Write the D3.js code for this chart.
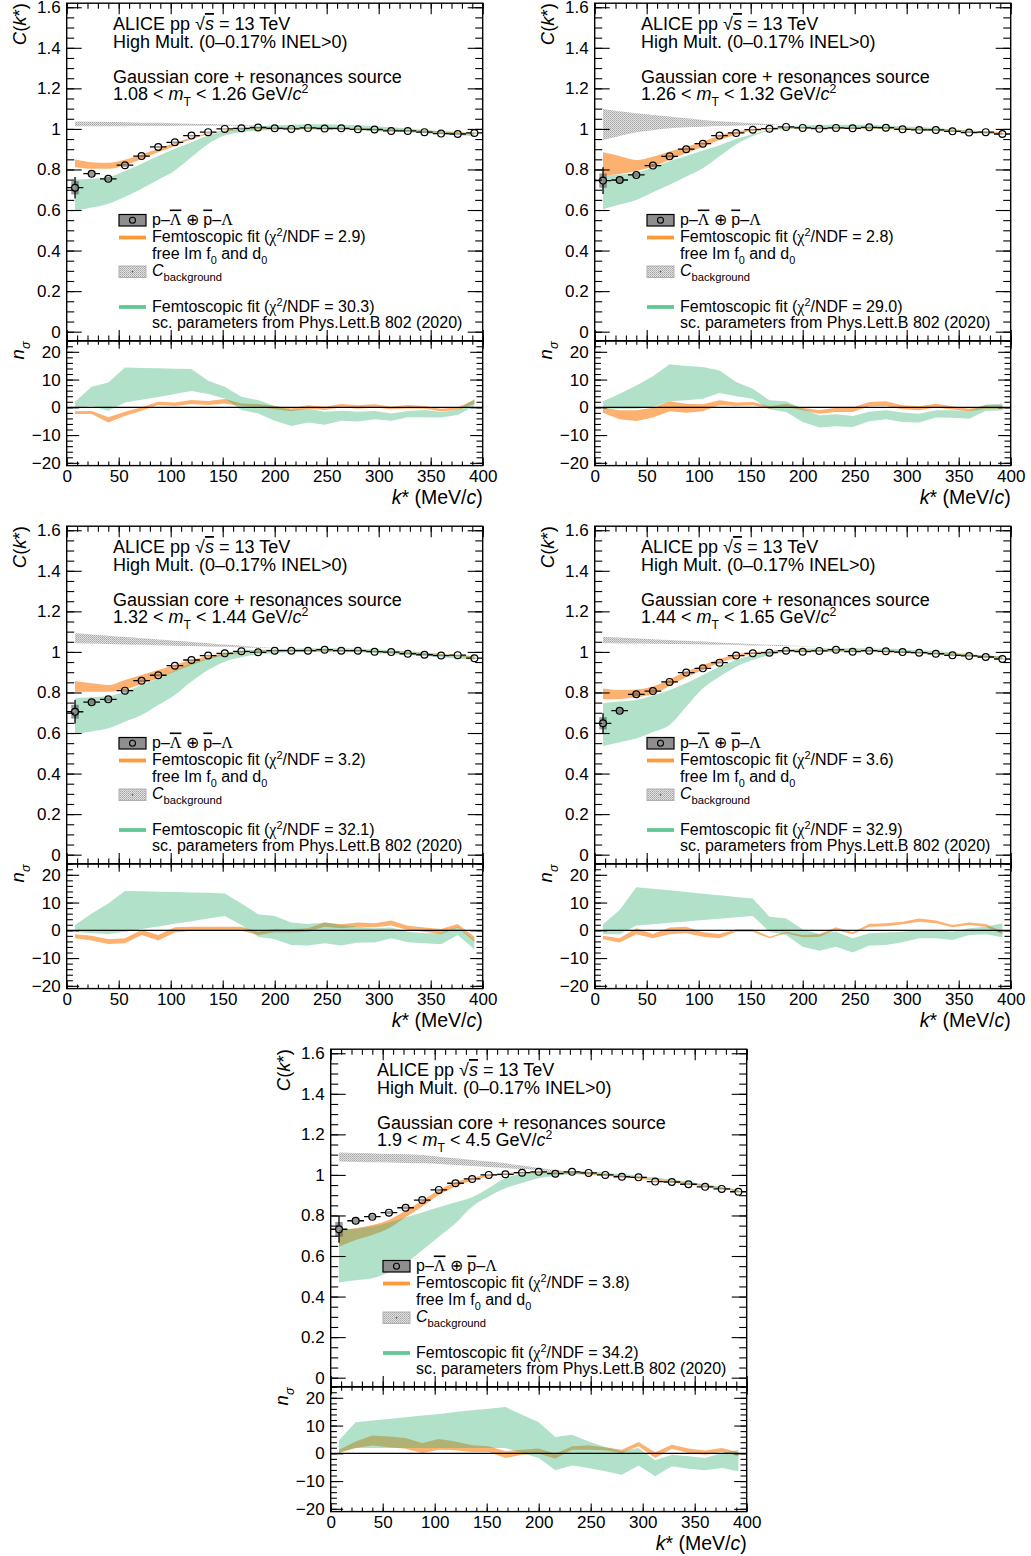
<!DOCTYPE html>
<html><head><meta charset="utf-8">
<script src="https://cdn.jsdelivr.net/npm/d3@7"></script>
<style>
body{margin:0;background:#fff}
svg{display:block}
text{font-family:"Liberation Sans",Arial,Helvetica,sans-serif;fill:#000}
</style>
</head><body>
<svg id="chart" width="1031" height="1556"></svg>
<script>
// ---------------- DATA ----------------
const kStar = [8,24,40,56,72,88,104,120,136,152,168,184,200,216,232,248,264,280,296,312,328,344,360,376,392];
const xTicks = [0,50,100,150,200,250,300,350,400];
const yTicksC = [0,0.2,0.4,0.6,0.8,1,1.2,1.4,1.6];
const yTicksN = [-20,-10,0,10,20];
const mtLow  = ["1.08","1.26","1.32","1.44","1.9"];
const mtHigh = ["1.26","1.32","1.44","1.65","4.5"];
const chi2Free = ["2.9","2.8","3.2","3.6","3.8"];
const chi2Sc   = ["30.3","29.0","32.1","32.9","34.2"];

// panel 1 : 1.08 < mT < 1.26
const cData1 = [0.710,0.779,0.754,0.821,0.866,0.911,0.934,0.967,0.984,1.000,1.003,1.007,1.003,1.000,1.005,1.002,1.003,0.998,0.997,0.990,0.990,0.984,0.977,0.975,0.980];
const stat1  = [0.053,0.015,0.008,0.006,0.005,0.005,0.004,0.004,0.004,0.003,0.003,0.003,0.003,0.003,0.003,0.003,0.003,0.003,0.003,0.003,0.003,0.003,0.003,0.003,0.003];
const sys1   = [0.033,0.013,0.010,0.008,0.006,0.005,0.004,0.004,0.003,0.003,0.003,0.003,0.002,0.002,0.002,0.002,0.002,0.002,0.002,0.002,0.002,0.002,0.002,0.002,0.002];
const freeHi1 = [0.849,0.836,0.833,0.848,0.874,0.902,0.930,0.959,0.979,0.992,0.998,1.008,1.008,1.007,1.007,1.006,1.005,1.003,1.001,0.998,0.995,0.992,0.988,0.985,0.981];
const freeLo1 = [0.811,0.803,0.803,0.821,0.852,0.885,0.916,0.949,0.972,0.987,0.995,1.000,1.000,0.999,0.999,0.998,0.997,0.995,0.993,0.990,0.987,0.984,0.980,0.977,0.973];
const scHi1 = [0.751,0.754,0.762,0.792,0.828,0.866,0.902,0.934,0.967,0.989,1.003,1.013,1.018,1.021,1.023,1.023,1.021,1.018,1.013,1.008,1.002,0.995,0.989,0.982,0.975];
const scLo1 = [0.595,0.612,0.631,0.664,0.705,0.749,0.795,0.861,0.926,0.967,0.984,0.992,0.995,0.997,0.997,0.997,0.996,0.993,0.990,0.987,0.984,0.979,0.974,0.969,0.964];
const bkgHi1 = [1.036,1.035,1.034,1.033,1.031,1.030,1.028,1.026,1.024,1.022,1.020,1.018];
const bkgLo1 = [1.013,1.013,1.013,1.013,1.014,1.014,1.014,1.015,1.015,1.015,1.016,1.016];
const nFreeHi1 = [-1.4,-1.3,-3.6,-1.6,0.0,2.0,1.7,2.6,2.3,3.0,1.4,1.2,0.5,-0.4,0.7,0.2,1.2,0.7,1.1,0.2,0.8,0.5,-0.5,0.0,2.6];
const nFreeLo1 = [-2.4,-2.4,-5.5,-3.1,-1.2,0.8,0.5,1.2,0.8,1.4,0.5,0.2,-0.7,-1.4,-0.5,-1.0,0.0,-0.5,-0.1,-0.7,-0.4,-0.5,-1.4,-1.0,1.2];
const nScHi1 = [2.0,7.4,8.9,14.3,14.2,14.1,13.9,13.8,9.6,7.4,3.8,2.6,0.5,-1.0,-0.4,-1.6,-1.2,-1.6,-1.3,-2.2,-1.3,-1.0,-1.6,-1.0,3.0];
const nScLo1 = [-0.4,0.5,-1.2,1.7,2.7,3.7,4.8,5.9,4.8,3.2,-1.0,-2.2,-4.8,-6.7,-5.5,-6.3,-4.8,-5.1,-4.3,-4.8,-3.6,-3.6,-3.7,-2.8,0.5];

// panel 2 : 1.26 < mT < 1.32
const cData2 = [0.745,0.748,0.773,0.819,0.865,0.900,0.927,0.967,0.980,0.996,1.001,1.010,1.005,1.001,1.005,1.003,1.008,1.006,0.998,0.995,0.995,0.988,0.982,0.984,0.975];
const stat2  = [0.066,0.018,0.010,0.007,0.006,0.005,0.005,0.004,0.004,0.004,0.003,0.003,0.003,0.003,0.003,0.003,0.003,0.003,0.003,0.003,0.003,0.003,0.003,0.003,0.003];
const sys2   = [0.035,0.014,0.010,0.008,0.006,0.005,0.004,0.004,0.003,0.003,0.003,0.003,0.002,0.002,0.002,0.002,0.002,0.002,0.002,0.002,0.002,0.002,0.002,0.002,0.002];
const freeHi2 = [0.885,0.867,0.847,0.863,0.888,0.912,0.937,0.967,0.987,1.000,1.006,1.010,1.010,1.009,1.009,1.009,1.008,1.007,1.005,1.002,0.999,0.996,0.992,0.988,0.983];
const freeLo2 = [0.768,0.778,0.793,0.814,0.847,0.880,0.912,0.945,0.973,0.991,1.000,1.002,1.002,1.001,1.001,1.001,1.000,0.999,0.997,0.994,0.991,0.988,0.984,0.980,0.975];
const scHi2 = [0.768,0.775,0.785,0.810,0.840,0.866,0.893,0.920,0.950,0.975,0.995,1.010,1.016,1.019,1.020,1.020,1.019,1.017,1.013,1.009,1.004,0.998,0.992,0.985,0.978];
const scLo2 = [0.604,0.627,0.650,0.688,0.724,0.765,0.806,0.865,0.923,0.965,0.990,1.000,1.002,1.002,1.002,1.002,1.001,0.999,0.996,0.993,0.990,0.986,0.981,0.976,0.970];
const bkgHi2 = [1.098,1.087,1.077,1.069,1.061,1.052,1.044,1.038,1.033,1.028,1.024,1.020];
const bkgLo2 = [0.945,0.965,0.983,0.994,1.003,1.008,1.011,1.014,1.016,1.018,1.019,1.020];
const nFreeHi2 = [-0.2,-1.1,-1.1,-0.2,2.2,1.3,1.1,2.5,1.7,1.9,0.4,1.3,-0.2,-1.1,-0.2,-0.1,1.9,2.2,0.7,0.4,1.3,0.4,-0.5,0.7,0.7];
const nFreeLo2 = [-2.0,-4.3,-4.9,-3.7,-1.4,-2.0,-1.4,0.7,0.5,0.7,-0.5,0.1,-1.1,-2.3,-1.7,-1.7,0.4,0.5,-0.7,-1.1,-0.1,-0.8,-1.4,-0.5,-0.5];
const nScHi2 = [2.2,4.9,7.9,11.2,15.5,14.9,14.5,13.3,9.1,6.7,2.5,2.2,-0.5,-2.9,-2.5,-3.1,-1.6,-1.1,-1.9,-2.3,-1.1,-1.1,-1.3,1.0,1.3];
const nScLo2 = [-0.5,-0.5,-0.5,0.1,2.2,2.5,3.1,5.2,4.0,3.1,-0.7,-1.7,-5.3,-7.3,-6.8,-7.1,-5.0,-4.3,-5.3,-5.5,-3.7,-3.8,-4.1,-1.3,-1.1];

// panel 3 : 1.32 < mT < 1.44
const cData3 = [0.705,0.752,0.766,0.809,0.858,0.885,0.932,0.960,0.982,0.993,1.003,0.998,1.006,1.006,1.006,1.011,1.006,1.006,1.001,0.999,0.991,0.986,0.982,0.984,0.969];
const stat3  = [0.058,0.016,0.009,0.007,0.006,0.005,0.005,0.004,0.004,0.004,0.003,0.003,0.003,0.003,0.003,0.003,0.003,0.003,0.003,0.003,0.003,0.003,0.003,0.003,0.003];
const sys3   = [0.034,0.013,0.010,0.008,0.006,0.005,0.004,0.004,0.003,0.003,0.003,0.003,0.002,0.002,0.002,0.002,0.002,0.002,0.002,0.002,0.002,0.002,0.002,0.002,0.002];
const freeHi3 = [0.857,0.845,0.837,0.862,0.886,0.911,0.936,0.960,0.980,0.993,1.001,1.008,1.010,1.011,1.011,1.011,1.010,1.009,1.006,1.003,0.999,0.995,0.990,0.985,0.980];
const freeLo3 = [0.804,0.804,0.804,0.815,0.842,0.870,0.903,0.936,0.964,0.982,0.993,1.000,1.002,1.003,1.003,1.003,1.002,1.001,0.998,0.995,0.991,0.987,0.982,0.977,0.972];
const scHi3 = [0.771,0.776,0.782,0.804,0.837,0.870,0.908,0.944,0.968,0.993,1.005,1.010,1.013,1.016,1.018,1.018,1.018,1.016,1.013,1.008,1.003,0.997,0.990,0.983,0.977];
const scLo3 = [0.595,0.607,0.623,0.656,0.689,0.738,0.788,0.854,0.911,0.952,0.974,0.987,0.995,0.998,1.000,1.000,1.000,0.998,0.995,0.990,0.985,0.980,0.974,0.967,0.960];
const bkgHi3 = [1.092,1.086,1.080,1.073,1.067,1.061,1.055,1.049,1.043,1.036,1.030,1.024,1.018];
const bkgLo3 = [1.043,1.041,1.039,1.037,1.035,1.033,1.031,1.029,1.027,1.025,1.022,1.020,1.018];
const nFreeHi3 = [-1.4,-2.0,-3.2,-2.9,0.1,-1.7,1.1,1.3,1.3,1.3,1.3,-0.5,0.5,0.4,0.7,2.8,2.2,2.8,2.5,3.5,1.6,1.0,0.5,2.3,-2.3];
const nFreeLo3 = [-2.9,-3.7,-4.9,-4.7,-1.7,-3.7,-0.8,-0.2,-0.2,-0.2,-0.2,-1.7,-0.7,-0.8,-0.5,1.3,0.7,1.3,1.1,1.7,0.1,-0.5,-1.4,1.0,-4.1];
const nScHi3 = [1.9,6.1,9.7,14.2,14.1,13.9,13.8,13.6,13.5,13.3,9.7,5.8,5.2,2.8,2.3,2.8,1.9,1.3,0.7,1.0,-0.5,-1.1,-1.1,1.3,-3.5];
const nScLo3 = [-0.5,-1.1,-1.3,-0.5,0.5,1.4,2.4,3.3,4.3,5.2,1.9,-2.3,-3.2,-5.3,-5.5,-4.7,-5.5,-4.4,-4.4,-2.9,-4.3,-4.7,-5.0,-1.7,-6.8];

// panel 4 : 1.44 < mT < 1.65
const cData4 = [0.648,0.710,0.791,0.807,0.852,0.898,0.919,0.947,0.982,0.993,0.996,1.006,1.001,1.005,1.011,1.001,1.006,1.003,0.999,0.996,0.991,0.983,0.980,0.975,0.965];
const stat4  = [0.050,0.015,0.009,0.007,0.006,0.005,0.005,0.004,0.004,0.004,0.003,0.003,0.003,0.003,0.003,0.003,0.003,0.003,0.003,0.003,0.003,0.003,0.003,0.003,0.003];
const sys4   = [0.030,0.013,0.010,0.008,0.006,0.005,0.004,0.004,0.003,0.003,0.003,0.003,0.002,0.002,0.002,0.002,0.002,0.002,0.002,0.002,0.002,0.002,0.002,0.002,0.002];
const freeHi4 = [0.820,0.812,0.815,0.829,0.865,0.903,0.936,0.964,0.988,0.998,1.005,1.008,1.009,1.009,1.009,1.008,1.007,1.005,1.003,1.000,0.996,0.992,0.987,0.982,0.976];
const freeLo4 = [0.766,0.768,0.776,0.792,0.832,0.875,0.911,0.947,0.973,0.990,0.996,1.000,1.001,1.001,1.001,1.000,0.999,0.997,0.995,0.992,0.988,0.984,0.979,0.974,0.968];
const scHi4 = [0.747,0.755,0.763,0.785,0.812,0.845,0.886,0.927,0.960,0.985,1.001,1.013,1.016,1.018,1.018,1.018,1.017,1.015,1.012,1.008,1.003,0.997,0.990,0.983,0.975];
const scLo4 = [0.536,0.555,0.573,0.605,0.640,0.730,0.821,0.878,0.927,0.960,0.985,1.000,1.002,1.003,1.003,1.002,1.001,0.999,0.996,0.992,0.988,0.983,0.977,0.971,0.965];
const bkgHi4 = [1.075,1.071,1.067,1.063,1.059,1.055,1.051,1.047,1.043,1.039,1.035,1.032,1.029,1.026];
const bkgLo4 = [1.043,1.042,1.041,1.040,1.039,1.038,1.037,1.035,1.034,1.032,1.031,1.029,1.027,1.026];
const nFreeHi4 = [-2.0,-2.9,0.7,-1.3,1.0,1.3,-0.7,-1.3,0.4,0.4,-2.3,-0.5,-1.7,-1.4,1.1,-0.7,2.3,2.5,3.1,4.3,3.5,1.9,2.8,2.3,-0.5];
const nFreeLo4 = [-3.2,-4.4,-1.4,-2.9,-1.4,-1.1,-2.3,-2.9,-0.5,-0.5,-2.9,-1.1,-2.5,-2.3,0.1,-1.4,1.3,1.5,2.2,3.1,2.5,1.1,1.9,1.3,-1.4];
const nScHi4 = [2.2,7.3,15.5,15.0,14.4,13.8,13.2,12.6,12.0,11.5,4.9,4.3,0.4,-1.3,-0.5,-2.9,-1.1,-0.8,-0.5,0.1,0.1,-0.5,0.7,1.3,2.5];
const nScLo4 = [-1.3,-1.4,1.7,2.2,2.7,3.2,3.7,4.2,4.7,5.2,-0.5,-1.7,-5.9,-7.4,-5.9,-8.0,-5.5,-5.3,-4.3,-2.9,-2.9,-3.5,-1.7,-1.4,-2.5];

// panel 5 : 1.9 < mT < 4.5
const cData5 = [0.732,0.774,0.794,0.814,0.838,0.876,0.926,0.959,0.980,1.000,1.003,1.011,1.015,1.006,1.015,1.010,1.000,0.991,0.988,0.967,0.965,0.954,0.941,0.931,0.917];
const stat5  = [0.066,0.018,0.010,0.008,0.006,0.006,0.005,0.005,0.004,0.004,0.004,0.004,0.004,0.004,0.004,0.004,0.004,0.004,0.004,0.004,0.004,0.004,0.004,0.004,0.004];
const sys5   = [0.036,0.014,0.011,0.008,0.007,0.006,0.005,0.004,0.004,0.003,0.003,0.003,0.003,0.003,0.003,0.003,0.003,0.003,0.003,0.003,0.003,0.003,0.003,0.003,0.003];
const freeHi5 = [0.728,0.737,0.753,0.778,0.824,0.873,0.926,0.964,0.987,1.001,1.008,1.015,1.016,1.015,1.013,1.009,1.004,0.997,0.989,0.980,0.971,0.961,0.950,0.938,0.925];
const freeLo5 = [0.646,0.679,0.704,0.737,0.791,0.844,0.901,0.942,0.972,0.992,0.999,1.007,1.008,1.007,1.005,1.001,0.996,0.989,0.981,0.972,0.963,0.953,0.942,0.930,0.917];
const scHi5 = [0.730,0.735,0.745,0.765,0.791,0.815,0.840,0.865,0.890,0.935,0.985,1.005,1.015,1.019,1.019,1.017,1.011,1.004,0.996,0.987,0.977,0.966,0.954,0.941,0.927];
const scLo5 = [0.469,0.480,0.490,0.520,0.564,0.629,0.695,0.761,0.843,0.893,0.934,0.960,0.984,0.995,1.003,1.003,1.000,0.994,0.987,0.978,0.969,0.958,0.946,0.933,0.918];
const bkgHi5 = [1.110,1.108,1.107,1.103,1.102,1.098,1.090,1.082,1.074,1.066,1.057,1.046,1.034,1.024,1.013];
const bkgLo5 = [1.066,1.064,1.062,1.061,1.059,1.057,1.054,1.049,1.044,1.039,1.034,1.029,1.023,1.018,1.013];
const nFreeHi5 = [1.3,4.3,6.4,6.1,5.5,3.7,5.2,4.3,2.9,2.5,0.7,1.3,1.7,-0.2,2.5,2.8,2.2,1.3,4.1,0.4,3.1,1.7,1.0,1.9,0.4];
const nFreeLo5 = [0.1,1.9,2.8,2.2,1.6,0.1,1.3,1.1,0.5,0.5,-1.7,-0.5,-0.2,-1.9,1.3,1.3,1.1,0.1,2.5,-1.7,1.6,0.1,-0.5,0.5,-1.1];
const nScHi5 = [4.7,11.2,11.8,12.4,13.0,13.6,14.2,14.9,15.5,16.1,16.7,13.9,11.2,5.9,6.7,4.3,2.3,0.7,1.9,-2.5,-0.5,-1.1,-1.7,0.1,1.3];
const nScLo5 = [0.4,1.9,1.9,1.9,1.9,1.9,1.9,1.9,1.9,1.9,1.9,0.1,-1.7,-6.1,-4.4,-5.3,-6.5,-7.7,-4.4,-8.3,-4.7,-5.6,-6.1,-5.3,-6.5];

// ---------------- DRAWING ----------------
const panels = [
  {c:cData1, st:stat1, sy:sys1, fHi:freeHi1, fLo:freeLo1, sHi:scHi1, sLo:scLo1, bHi:bkgHi1, bLo:bkgLo1, nfHi:nFreeHi1, nfLo:nFreeLo1, nsHi:nScHi1, nsLo:nScLo1},
  {c:cData2, st:stat2, sy:sys2, fHi:freeHi2, fLo:freeLo2, sHi:scHi2, sLo:scLo2, bHi:bkgHi2, bLo:bkgLo2, nfHi:nFreeHi2, nfLo:nFreeLo2, nsHi:nScHi2, nsLo:nScLo2},
  {c:cData3, st:stat3, sy:sys3, fHi:freeHi3, fLo:freeLo3, sHi:scHi3, sLo:scLo3, bHi:bkgHi3, bLo:bkgLo3, nfHi:nFreeHi3, nfLo:nFreeLo3, nsHi:nScHi3, nsLo:nScLo3},
  {c:cData4, st:stat4, sy:sys4, fHi:freeHi4, fLo:freeLo4, sHi:scHi4, sLo:scLo4, bHi:bkgHi4, bLo:bkgLo4, nfHi:nFreeHi4, nfLo:nFreeLo4, nsHi:nScHi4, nsLo:nScLo4},
  {c:cData5, st:stat5, sy:sys5, fHi:freeHi5, fLo:freeLo5, sHi:scHi5, sLo:scLo5, bHi:bkgHi5, bLo:bkgLo5, nfHi:nFreeHi5, nfLo:nFreeLo5, nsHi:nScHi5, nsLo:nScLo5}
];
const offsets = [[0,0],[528,0],[0,523],[528,523],[264,1046]];

const ORANGE_FILL = "#fdb171";
const GREEN_FILL = "rgba(60,180,120,0.40)";
const ORANGE_LINE = "#ff9a3a";
const GREEN_LINE = "#62c796";
const SYS_FILL = "rgba(70,70,70,0.55)";

const svg = d3.select("#chart");
const defs = svg.append("defs");
const pat = defs.append("pattern").attr("id","hatch").attr("patternUnits","userSpaceOnUse").attr("width",2).attr("height",2);
pat.append("rect").attr("width",2).attr("height",2).attr("fill","#e2e2e2");
pat.append("rect").attr("x",0).attr("y",0).attr("width",1).attr("height",1).attr("fill","#a4a4a4");
pat.append("rect").attr("x",1).attr("y",1).attr("width",1).attr("height",1).attr("fill","#b8b8b8");

function rich(g, x, y, parts, size, opts) {
  opts = opts || {};
  const t = g.append("text").attr("x", x).attr("y", y).attr("font-size", size)
    .attr("text-anchor", opts.anchor || "start");
  if (opts.transform) t.attr("transform", opts.transform);
  let shift = 0;
  parts.forEach(p => {
    if (typeof p === "string") p = {t: p};
    const target = p.sub ? size * 0.32 : (p.sup ? -size * 0.40 : 0);
    const ts = t.append("tspan").text(p.t).attr("dy", target - shift);
    shift = target;
    if (p.sub || p.sup) ts.attr("font-size", size * (p.scale || 0.68));
    if (p.i) ts.attr("font-style", "italic");
    if (p.f) ts.attr("font-family", p.f);
    if (p.o) ts.attr("text-decoration", "overline");
  });
  return t;
}

const SERIF = "Liberation Serif, Times New Roman, serif";

function drawAxis(g, axis, transform, fontSize) {
  const a = g.append("g").attr("transform", transform).call(axis);
  a.select(".domain").remove();
  a.attr("font-family", null).attr("font-size", fontSize || 17);
  a.selectAll("line").attr("stroke", "#000").attr("stroke-width", 1.1);
  a.selectAll("text").attr("fill", "#000");
  return a;
}

panels.forEach((p, i) => {
  const [dx, dy] = offsets[i];
  const g = svg.append("g").attr("transform", `translate(${dx},${dy})`);
  const x = d3.scaleLinear().domain([0, 400]).range([66.7, 482.7]);
  const yC = d3.scaleLinear().domain([-0.046, 1.62]).range([341.0, 3.2]);
  const yN = d3.scaleLinear().domain([-21, 24]).range([465.6, 340.7]);
  const [x0, x1] = x.range();

  // clips (in the panel's own coordinates)
  defs.append("clipPath").attr("id", "cu" + i).append("rect")
    .attr("x", x0).attr("y", yC.range()[1]).attr("width", x1 - x0).attr("height", yC.range()[0] - yC.range()[1]);
  defs.append("clipPath").attr("id", "cl" + i).append("rect")
    .attr("x", x0).attr("y", yN.range()[1]).attr("width", x1 - x0).attr("height", yN.range()[0] - yN.range()[1]);

  // ---------- upper pad ----------
  const up = g.append("g");
  const upC = up.append("g").attr("clip-path", `url(#cu${i})`);
  const bandC = (lo, hi, curve) => d3.area()
    .x((d, j) => x(kStar[j])).y0((d, j) => yC(lo[j])).y1((d, j) => yC(hi[j]))
    .curve(curve)(lo);
  upC.append("path").attr("d", bandC(p.bLo, p.bHi, d3.curveMonotoneX)).attr("fill", "url(#hatch)");
  upC.append("path").attr("d", bandC(p.fLo, p.fHi, d3.curveMonotoneX)).attr("fill", ORANGE_FILL);
  upC.append("path").attr("d", bandC(p.sLo, p.sHi, d3.curveMonotoneX)).attr("fill", GREEN_FILL);

  // data points
  const r = 3.4, hw = 8;
  p.c.forEach((v, j) => {
    const k = kStar[j];
    const cx = x(k), cy = yC(v);
    upC.append("rect").attr("x", x(k - 3.6)).attr("width", x(k + 3.6) - x(k - 3.6))
      .attr("y", yC(v + p.sy[j])).attr("height", yC(v - p.sy[j]) - yC(v + p.sy[j]))
      .attr("fill", SYS_FILL);
    const eb = upC.append("g").attr("stroke", "#000").attr("stroke-width", 1.3);
    eb.append("line").attr("x1", x(k - hw)).attr("x2", cx - r).attr("y1", cy).attr("y2", cy);
    eb.append("line").attr("x1", cx + r).attr("x2", x(k + hw)).attr("y1", cy).attr("y2", cy);
    const yt = yC(v + p.st[j]), yb = yC(v - p.st[j]);
    if (cy - yt > r) {
      eb.append("line").attr("x1", cx).attr("x2", cx).attr("y1", yt).attr("y2", cy - r);
      eb.append("line").attr("x1", cx).attr("x2", cx).attr("y1", cy + r).attr("y2", yb);
    }
    upC.append("circle").attr("cx", cx).attr("cy", cy).attr("r", r)
      .attr("fill", "none").attr("stroke", "#000").attr("stroke-width", 1.2);
  });

  // axes upper
  const minC = d3.range(0, 1.6001, 0.05);
  const minX = d3.range(0, 400.1, 10);
  drawAxis(up, d3.axisLeft(yC).tickValues(yTicksC).tickSize(-15).tickPadding(6).tickFormat(d3.format("~g")), `translate(${x0},0)`);
  drawAxis(up, d3.axisLeft(yC).tickValues(minC).tickSize(-7.5).tickFormat(""), `translate(${x0},0)`);
  drawAxis(up, d3.axisRight(yC).tickValues(yTicksC).tickSize(-15).tickFormat(""), `translate(${x1},0)`);
  drawAxis(up, d3.axisRight(yC).tickValues(minC).tickSize(-7.5).tickFormat(""), `translate(${x1},0)`);
  drawAxis(up, d3.axisTop(x).tickValues(xTicks).tickSize(-11).tickFormat(""), `translate(0,${yC.range()[1]})`);
  drawAxis(up, d3.axisTop(x).tickValues(minX).tickSize(-5.5).tickFormat(""), `translate(0,${yC.range()[1]})`);
  drawAxis(up, d3.axisBottom(x).tickValues(xTicks).tickSize(-11).tickFormat(""), `translate(0,${yC.range()[0]})`);
  drawAxis(up, d3.axisBottom(x).tickValues(minX).tickSize(-5.5).tickFormat(""), `translate(0,${yC.range()[0]})`);
  up.append("rect").attr("x", x0).attr("y", yC.range()[1]).attr("width", x1 - x0)
    .attr("height", yC.range()[0] - yC.range()[1]).attr("fill", "none").attr("stroke", "#000").attr("stroke-width", 1.4);

  // texts upper
  rich(up, 26, 3, [{t:"C", i:true}, "(", {t:"k", i:true}, "*)"], 18.5, {anchor:"end", transform:"rotate(-90,26,3)"});
  rich(up, 113, 30, ["ALICE pp  ", "\u221A", {t:"s", i:true, o:true}, " = 13 TeV"], 18);
  rich(up, 113, 48, ["High Mult. (0\u20130.17% INEL>0)"], 18);
  rich(up, 113, 83, ["Gaussian core + resonances source"], 18);
  rich(up, 113, 100, [mtLow[i] + " < ", {t:"m", i:true}, {t:"T", sub:true}, " < " + mtHigh[i] + " GeV/", {t:"c", i:true}, {t:"2", sup:true}], 18);

  // legend
  const lg = up.append("g");
  lg.append("rect").attr("x", 119).attr("y", 214.5).attr("width", 27).attr("height", 11.5)
    .attr("fill", "#8e8e8e").attr("stroke", "#000").attr("stroke-width", 1.2);
  lg.append("circle").attr("cx", 132.5).attr("cy", 220.2).attr("r", 3).attr("fill", "none").attr("stroke", "#000").attr("stroke-width", 1.1);
  rich(lg, 152, 224.5, ["p\u2013", {t:"\u039B", f:SERIF, o:true}, " ", {t:"\u2295", f:SERIF}, " ", {t:"p", o:true}, "\u2013", {t:"\u039B", f:SERIF}], 16);
  lg.append("line").attr("x1", 119).attr("x2", 146).attr("y1", 237.5).attr("y2", 237.5).attr("stroke", ORANGE_LINE).attr("stroke-width", 3.8);
  rich(lg, 152, 242, ["Femtoscopic fit (", {t:"\u03C7", f:SERIF}, {t:"2", sup:true}, "/NDF = " + chi2Free[i] + ")"], 16);
  rich(lg, 152, 259, ["free Im f", {t:"0", sub:true}, " and d", {t:"0", sub:true}], 16);
  lg.append("rect").attr("x", 119).attr("y", 266).attr("width", 27).attr("height", 11.5)
    .attr("fill", "url(#hatch)").attr("stroke", "#b0b0b0").attr("stroke-width", 1);
  lg.append("circle").attr("cx", 132.5).attr("cy", 271.8).attr("r", 0.8).attr("fill", "#444");
  rich(lg, 152, 276, [{t:"C", i:true}, {t:"background", sub:true, scale:0.7}], 16);
  lg.append("line").attr("x1", 119).attr("x2", 146).attr("y1", 307).attr("y2", 307).attr("stroke", GREEN_LINE).attr("stroke-width", 3.8);
  rich(lg, 152, 312, ["Femtoscopic fit (", {t:"\u03C7", f:SERIF}, {t:"2", sup:true}, "/NDF = " + chi2Sc[i] + ")"], 16);
  rich(lg, 152, 328, ["sc. parameters from Phys.Lett.B 802 (2020)"], 16);

  // ---------- lower pad ----------
  const lo = g.append("g");
  const loC = lo.append("g").attr("clip-path", `url(#cl${i})`);
  const bandN = (l, h) => d3.area()
    .x((d, j) => x(kStar[j])).y0((d, j) => yN(l[j])).y1((d, j) => yN(h[j]))(l);
  loC.append("path").attr("d", bandN(p.nfLo, p.nfHi)).attr("fill", ORANGE_FILL);
  loC.append("path").attr("d", bandN(p.nsLo, p.nsHi)).attr("fill", GREEN_FILL);
  loC.append("line").attr("x1", x(0)).attr("x2", x(400)).attr("y1", yN(0)).attr("y2", yN(0))
    .attr("stroke", "#000").attr("stroke-width", 1.2);

  const minN = d3.range(-20, 24.1, 2);
  drawAxis(lo, d3.axisLeft(yN).tickValues(yTicksN).tickSize(-12.5).tickPadding(6).tickFormat(d3.format("d")), `translate(${x0},0)`);
  drawAxis(lo, d3.axisLeft(yN).tickValues(minN).tickSize(-6.2).tickFormat(""), `translate(${x0},0)`);
  drawAxis(lo, d3.axisRight(yN).tickValues(yTicksN).tickSize(-12.5).tickFormat(""), `translate(${x1},0)`);
  drawAxis(lo, d3.axisRight(yN).tickValues(minN).tickSize(-6.2).tickFormat(""), `translate(${x1},0)`);
  drawAxis(lo, d3.axisTop(x).tickValues(xTicks).tickSize(-8).tickFormat(""), `translate(0,${yN.range()[1]})`);
  drawAxis(lo, d3.axisTop(x).tickValues(minX).tickSize(-4).tickFormat(""), `translate(0,${yN.range()[1]})`);
  drawAxis(lo, d3.axisBottom(x).tickValues(xTicks).tickSize(-8).tickPadding(4).tickFormat(d3.format("d")), `translate(0,${yN.range()[0]})`);
  drawAxis(lo, d3.axisBottom(x).tickValues(minX).tickSize(-4).tickFormat(""), `translate(0,${yN.range()[0]})`);
  lo.append("rect").attr("x", x0).attr("y", yN.range()[1]).attr("width", x1 - x0)
    .attr("height", yN.range()[0] - yN.range()[1]).attr("fill", "none").attr("stroke", "#000").attr("stroke-width", 1.4);

  rich(lo, 24, 341.5, [{t:"n", i:true}, {t:"\u03C3", sub:true, i:true}], 18.5, {anchor:"end", transform:"rotate(-90,24,341.5)"});
  rich(lo, x1, 504, [{t:"k", i:true}, "* (MeV/", {t:"c", i:true}, ")"], 19.5, {anchor:"end"});
});
</script>
</body></html>
